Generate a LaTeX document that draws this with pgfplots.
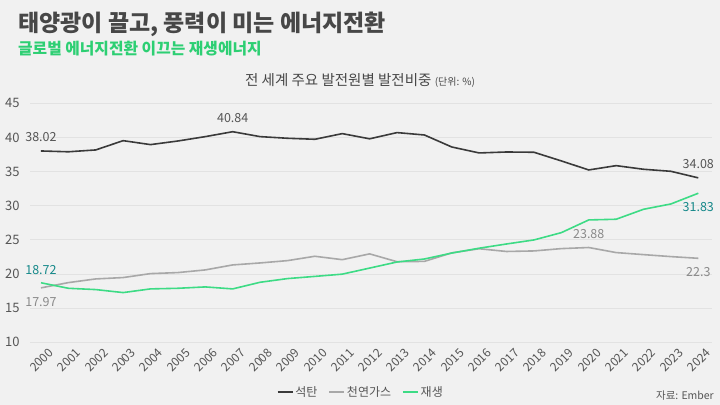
\documentclass[border=0pt]{standalone}
\usepackage{fontspec}
\setmainfont{Noto Sans CJK KR}
\usepackage{pgfplots}
\pgfplotsset{compat=1.18}
\definecolor{bg}{HTML}{F1F1F1}
\definecolor{gridc}{HTML}{E2E2E2}
\definecolor{titlec}{HTML}{474747}
\definecolor{subc}{HTML}{2DCF73}
\definecolor{coalc}{HTML}{3A3A3A}
\definecolor{gasc}{HTML}{A8A8A8}
\definecolor{renc}{HTML}{3DDB85}
\definecolor{tealc}{HTML}{16898A}
\definecolor{labc}{HTML}{555555}
\definecolor{lab2c}{HTML}{8A8A8A}
\definecolor{tickc}{HTML}{555555}
\begin{document}
\begin{tikzpicture}
\path[use as bounding box, fill=bg] (0,0) rectangle (720bp,405bp);
\node[anchor=base west, inner sep=0, text=titlec, font=\bfseries\fontsize{23bp}{27bp}\selectfont] at (18bp,373bp) {태양광이 끌고, 풍력이 미는 에너지전환};
\node[anchor=base west, inner sep=0, text=subc, font=\bfseries\fontsize{15.8bp}{19bp}\selectfont] at (18bp,350bp) {글로벌 에너지전환 이끄는 재생에너지};
\node[anchor=base, inner sep=0, text=titlec, font=\fontsize{14.5bp}{17bp}\selectfont] at (360bp,319bp) {전 세계 주요 발전원별 발전비중 {\fontsize{10bp}{12bp}\selectfont(단위: \%)}};
\node[anchor=base east, inner sep=0, text=tickc, font=\fontsize{10.5bp}{12bp}\selectfont] at (714bp,6bp) {자료: Ember};
\begin{axis}[
  at={(30bp,62.7bp)}, anchor=south west,
  scale only axis, width=682bp, height=239bp,
  xmin=1999.6, xmax=2024.5, ymin=10, ymax=45,
  axis line style={draw=none},
  major tick length=0pt,
  xtick={2000,2001,...,2024},
  ytick={10,15,...,45},
  ymajorgrids, grid style={color=gridc, line width=0.9bp},
  /pgf/number format/assume math mode=true,
  /pgf/number format/1000 sep={},
  yticklabel style={text=tickc, font=\fontsize{13bp}{15bp}\selectfont, xshift=-7bp},
  xticklabel style={text=tickc, font=\fontsize{12bp}{13bp}\selectfont, rotate=45, anchor=east, inner sep=0.5bp, xshift=2bp, yshift=-13bp},
  legend style={at={(0.485,-0.208)}, anchor=center, draw=none, fill=none,
    font=\fontsize{12bp}{14bp}\selectfont, text=labc,
    /tikz/every even column/.append style={column sep=9bp}},
  legend columns=-1,
  legend image code/.code={\draw[#1] (0bp,0bp) -- (15bp,0bp);},
  clip=false,
]
\addplot[coalc, line width=1.6bp] coordinates {
(2000,38.02) (2001,37.9) (2002,38.17) (2003,39.53) (2004,38.95) (2005,39.48)
(2006,40.12) (2007,40.84) (2008,40.12) (2009,39.88) (2010,39.73) (2011,40.56)
(2012,39.8) (2013,40.71) (2014,40.36) (2015,38.6) (2016,37.73) (2017,37.87)
(2018,37.83) (2019,36.56) (2020,35.24) (2021,35.87) (2022,35.34) (2023,35.04)
(2024,34.08)};
\addplot[gasc, line width=1.6bp] coordinates {
(2000,17.97) (2001,18.74) (2002,19.28) (2003,19.48) (2004,20.06) (2005,20.21)
(2006,20.6) (2007,21.33) (2008,21.62) (2009,21.96) (2010,22.6) (2011,22.1)
(2012,22.95) (2013,21.8) (2014,21.85) (2015,23.1) (2016,23.7) (2017,23.3)
(2018,23.38) (2019,23.72) (2020,23.88) (2021,23.14) (2022,22.84) (2023,22.55)
(2024,22.3)};
\addplot[renc, line width=1.6bp] coordinates {
(2000,18.72) (2001,17.91) (2002,17.72) (2003,17.28) (2004,17.82) (2005,17.91)
(2006,18.11) (2007,17.82) (2008,18.79) (2009,19.33) (2010,19.65) (2011,19.98)
(2012,20.87) (2013,21.76) (2014,22.2) (2015,23.07) (2016,23.78) (2017,24.4)
(2018,24.99) (2019,26.06) (2020,27.92) (2021,28.02) (2022,29.48) (2023,30.26)
(2024,31.83)};
\legend{석탄,천연가스,재생}
\begin{scope}[every node/.style={font=\fontsize{12.5bp}{15bp}\selectfont, inner sep=0}]
\node[text=labc, yshift=14bp] at (axis cs:2000,38.02) {38.02};
\node[text=labc, yshift=14bp] at (axis cs:2007,40.84) {40.84};
\node[text=labc, yshift=14bp] at (axis cs:2024,34.08) {34.08};
\node[text=lab2c, yshift=-14bp] at (axis cs:2000,17.97) {17.97};
\node[text=lab2c, yshift=13bp] at (axis cs:2020,23.88) {23.88};
\node[text=lab2c, yshift=-14bp] at (axis cs:2024,22.3) {22.3};
\node[text=tealc, yshift=13bp] at (axis cs:2000,18.72) {18.72};
\node[text=tealc, yshift=-14bp] at (axis cs:2024,31.83) {31.83};
\end{scope}
\end{axis}
\end{tikzpicture}
\end{document}
